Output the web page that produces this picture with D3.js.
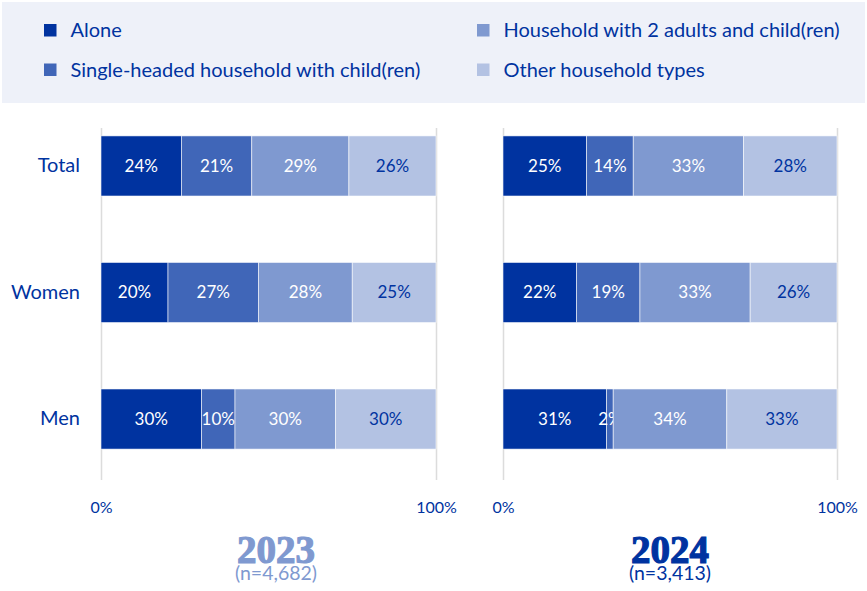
<!DOCTYPE html>
<html><head><meta charset="utf-8">
<script src="https://cdn.jsdelivr.net/npm/d3@7"></script>
<style>
html,body{margin:0;padding:0;background:#fff;}
svg{display:block;font-family:Lato, "Open Sans", sans-serif;}
</style></head>
<body>
<svg id="chart" width="867" height="591"></svg>
<script>
const categories = ["Total", "Women", "Men"];
const seriesNames = ["Alone", "Single-headed household with child(ren)", "Household with 2 adults and child(ren)", "Other household types"];
const seriesColors = ["#0033a0", "#4066b8", "#7f99d0", "#b3c2e3"];
const values2023 = {
  "Alone": [24, 20, 30],
  "Single-headed household with child(ren)": [21, 27, 10],
  "Household with 2 adults and child(ren)": [29, 28, 30],
  "Other household types": [26, 25, 30]
};
const values2024 = {
  "Alone": [25, 22, 31],
  "Single-headed household with child(ren)": [14, 19, 2],
  "Household with 2 adults and child(ren)": [33, 33, 34],
  "Other household types": [28, 26, 33]
};
const tickValues = [0, 100];
const panels = [
  {year: "2023", n: "(n=4,682)", values: values2023, x0: 101, x1: 436, titleX: 276, yearColor: "#7f99d0", nColor: "#7f99d0"},
  {year: "2024", n: "(n=3,413)", values: values2024, x0: 503, x1: 837, titleX: 670, yearColor: "#0033a0", nColor: "#0033a0"}
];

const svg = d3.select("#chart");
const textColor = "#0033a0";

// Legend background
svg.append("rect").attr("x", 2).attr("y", 2).attr("width", 863).attr("height", 101).attr("fill", "#eef1f9");
const legPos = {0: [44, 30], 1: [44, 69.5], 2: [477, 30], 3: [477, 69.5]};
seriesNames.forEach((s, i) => {
  const [lx, ly] = legPos[i];
  svg.append("rect").attr("x", lx).attr("y", ly - 6).attr("width", 12.5).attr("height", 12.5).attr("fill", seriesColors[i]);
  svg.append("text").attr("x", lx + 26.5).attr("y", ly).attr("dy", "0.35em")
    .attr("font-size", 20).attr("fill", textColor).text(s);
});

const y = d3.scaleBand().domain(categories).range([103, 482]).paddingInner(0.525).paddingOuter(0.26);
const color = d3.scaleOrdinal().domain(seriesNames).range(seriesColors);

panels.forEach((p, pi) => {
  const x = d3.scaleLinear().domain([0, 100]).range([p.x0, p.x1]);
  const g = svg.append("g");
  const axis = d3.axisBottom(x).tickValues(tickValues).tickFormat(d => d + "%")
    .tickSize(-(480 - 128)).tickPadding(22);
  const ax = g.append("g").attr("transform", "translate(0,480)").call(axis);
  ax.select(".domain").remove();
  ax.selectAll(".tick line").attr("stroke", "#dcdcdc").attr("stroke-width", 1.5);
  ax.selectAll(".tick text").attr("font-size", 16).attr("fill", textColor).attr("font-family", "Lato, sans-serif");

  if (pi === 0) {
    const ya = d3.axisLeft(y).tickSize(0).tickPadding(21);
    const yg = g.append("g").attr("transform", `translate(${p.x0},0)`).call(ya);
    yg.select(".domain").remove();
    yg.selectAll(".tick text").attr("font-size", 20).attr("fill", textColor).attr("font-family", "Lato, sans-serif");
  }

  const rows = categories.map((c, ci) => {
    const r = {category: c};
    seriesNames.forEach(s => r[s] = p.values[s][ci]);
    return r;
  });
  const stacked = d3.stack().keys(seriesNames)(rows);
  const layers = g.selectAll(".layer").data(stacked).join("g").attr("fill", d => color(d.key));
  layers.selectAll("rect").data(d => d).join("rect")
    .attr("x", d => x(d[0])).attr("width", d => x(d[1]) - x(d[0]))
    .attr("y", d => y(d.data.category)).attr("height", y.bandwidth())
    .attr("stroke", "#ffffff").attr("stroke-width", 0.8).attr("stroke-opacity", 0.7);
  layers.selectAll("text").data(d => d.map(v => ({v, key: d.key}))).join("text")
    .attr("x", d => (x(d.v[0]) + x(d.v[1])) / 2)
    .attr("y", d => y(d.v.data.category) + y.bandwidth() / 2)
    .attr("dy", "0.35em").attr("text-anchor", "middle").attr("font-size", 17)
    .attr("fill", d => d.key === "Other household types" ? textColor : "#ffffff")
    .text(d => (d.v[1] - d.v[0]) + "%");

  svg.append("text").attr("x", p.titleX).attr("y", 563).attr("text-anchor", "middle")
    .attr("font-family", "'Liberation Serif', serif").attr("font-weight", "bold").attr("font-size", 39)
    .attr("fill", p.yearColor).attr("stroke", p.yearColor).attr("stroke-width", 1.2).text(p.year);
  svg.append("text").attr("x", p.titleX).attr("y", 580).attr("text-anchor", "middle")
    .attr("font-size", 19.5).attr("fill", p.nColor).text(p.n);
});
</script>
</body></html>
